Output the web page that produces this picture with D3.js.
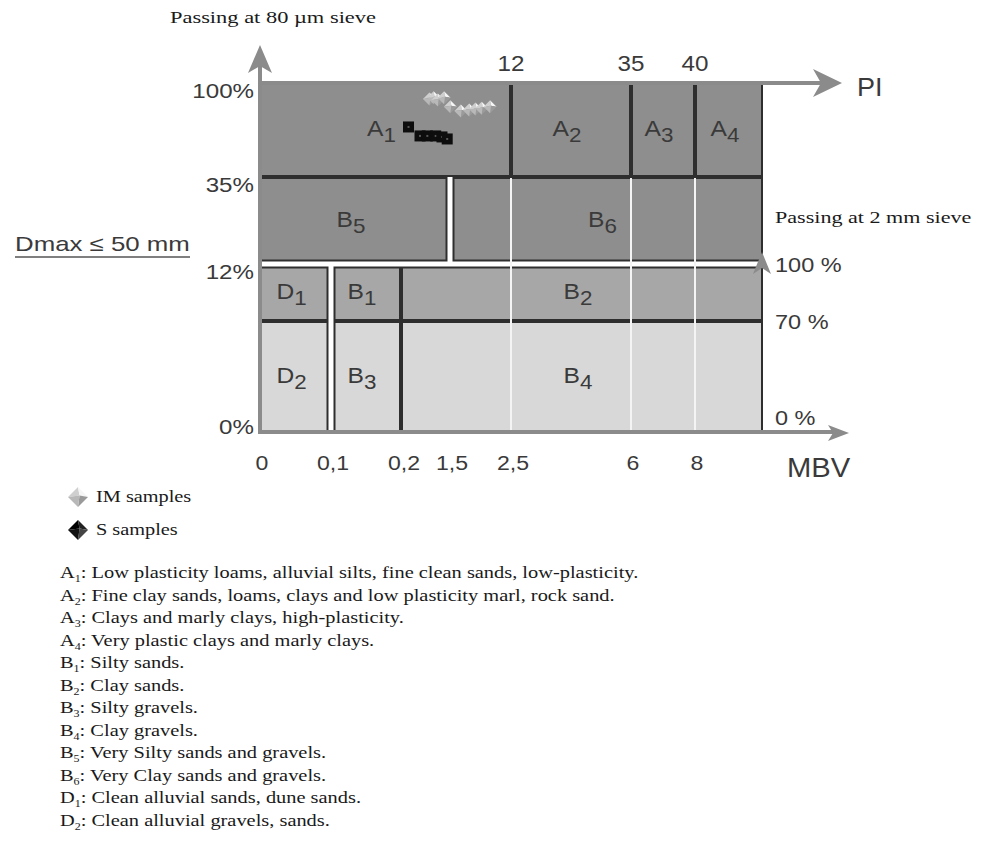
<!DOCTYPE html>
<html><head><meta charset="utf-8">
<script src="https://cdn.jsdelivr.net/npm/d3@7"></script>
<style>
body{margin:0;background:#fff;}
svg{display:block;}
.sans{font-family:"Liberation Sans",Arial,Helvetica,sans-serif;fill:#3a3a3a;}
.serif{font-family:"Liberation Serif","Times New Roman",serif;fill:#1a1a1a;}
</style>
</head><body>
<script>
// ---------------- DATA ----------------
// bottom axis (MBV) ticks, piecewise axis
const mbvTicks = [0, 0.1, 0.2, 1.5, 2.5, 6, 8];
const mbvTickLabels = ["0", "0,1", "0,2", "1,5", "2,5", "6", "8"];
const mbvEnd = 10;
// top axis (PI)
const piTicks = [12, 35, 40];
const piTickLabels = ["12", "35", "40"];
const piEnd = 50;
// left axis: passing at 80 µm sieve
const pass80Ticks = [100, 35, 12, 0];
const pass80Labels = ["100%", "35%", "12%", "0%"];
// right axis: passing at 2 mm sieve
const pass2Ticks = [100, 70, 0];
const pass2Labels = ["100 %", "70 %", "0 %"];

// classification zones
const zoneLetter = ["A", "A", "A", "A", "B", "B", "D", "B", "B", "D", "B", "B"];
const zoneIndex  = [1, 2, 3, 4, 5, 6, 1, 1, 2, 2, 3, 4];
const zoneXAxis  = ["PI", "PI", "PI", "PI", "MBV", "MBV", "MBV", "MBV", "MBV", "MBV", "MBV", "MBV"];
const zoneXFrom  = [0, 12, 35, 40, 0, 1.5, 0, 0.1, 0.2, 0, 0.1, 0.2];
const zoneXTo    = [12, 35, 40, 50, 1.5, 10, 0.1, 0.2, 10, 0.1, 0.2, 10];
const zoneYAxis  = ["p80", "p80", "p80", "p80", "p80", "p80", "p2", "p2", "p2", "p2", "p2", "p2"];
const zoneYFrom  = [35, 35, 35, 35, 12, 12, 70, 70, 70, 0, 0, 0];
const zoneYTo    = [100, 100, 100, 100, 35, 35, 100, 100, 100, 70, 70, 70];

// samples (PI, % passing at 80 µm)
const imPI   = [8.1, 8.3, 8.5, 8.8, 9.1, 9.6, 10.0, 10.3, 10.6, 11.0];
const imPass = [88.9, 89.8, 88.2, 89.8, 83.6, 80.6, 81.3, 82.0, 82.5, 83.6];
const sPI    = [7.1, 7.65, 8.0, 8.4, 8.7, 8.95];
const sPass  = [69.6, 63.4, 63.4, 63.4, 62.7, 61.3];

// legend / description
const legendNames = ["IM samples", "S samples"];
const descLetter = ["A", "A", "A", "A", "B", "B", "B", "B", "B", "B", "D", "D"];
const descIndex  = [1, 2, 3, 4, 1, 2, 3, 4, 5, 6, 1, 2];
const descText = [
  ": Low plasticity loams, alluvial silts, fine clean sands, low-plasticity.",
  ": Fine clay sands, loams, clays and low plasticity marl, rock sand.",
  ": Clays and marly clays, high-plasticity.",
  ": Very plastic clays and marly clays.",
  ": Silty sands.",
  ": Clay sands.",
  ": Silty gravels.",
  ": Clay gravels.",
  ": Very Silty sands and gravels.",
  ": Very Clay sands and gravels.",
  ": Clean alluvial sands, dune sands.",
  ": Clean alluvial gravels, sands."
];

// ---------------- SCALES ----------------
const W = 988, H = 855;
const svg = d3.select("body").append("svg").attr("width", W).attr("height", H);

const xMBV = d3.scaleLinear().domain([...mbvTicks, mbvEnd]).range([260, 331, 401, 450, 511, 631, 695, 763]);
const xPI  = d3.scaleLinear().domain([0, ...piTicks, piEnd]).range([260, 511, 631, 695, 763]);
const yP80 = d3.scaleLinear().domain([0, 12, 35, 100]).range([432, 264, 177, 83]);
const yP2  = d3.scaleLinear().domain([0, 70, 100]).range([432, 321, 264]);

const AX = "#8b8b8b";
const fills = {p80: "#8e8e8e", hi: "#a7a7a7", lo: "#d8d8d8"};

// stretched text helper (reference text is horizontally widened)
function stxt(parent, x, y, s, size, cls, anchor, sx) {
  return parent.append("text").attr("class", cls)
    .attr("transform", `translate(${x},${y}) scale(${sx},1)`)
    .attr("font-size", size).attr("text-anchor", anchor || "start").text(s);
}

// ---------------- ZONES ----------------
const gapX = [0.1, 1.5];
const g = svg.append("g");
zoneLetter.forEach((L, i) => {
  const xs = zoneXAxis[i] === "PI" ? xPI : xMBV;
  const ys = zoneYAxis[i] === "p80" ? yP80 : yP2;
  let x0 = xs(zoneXFrom[i]), x1 = xs(zoneXTo[i]);
  let y0 = ys(zoneYTo[i]), y1 = ys(zoneYFrom[i]);
  if (zoneXAxis[i] === "MBV" && gapX.includes(zoneXFrom[i])) x0 += 2.5;
  if (zoneXAxis[i] === "MBV" && gapX.includes(zoneXTo[i])) x1 -= 2.5;
  if (zoneYAxis[i] === "p80" && zoneYFrom[i] === 12) y1 -= 2.5;
  if (zoneYAxis[i] === "p2" && zoneYTo[i] === 100) y0 += 2.5;
  const fill = zoneYAxis[i] === "p80" ? fills.p80 : (zoneYFrom[i] >= 70 ? fills.hi : fills.lo);
  g.append("rect").attr("x", x0 + 1).attr("y", y0 + 1).attr("width", x1 - x0 - 2).attr("height", y1 - y0 - 2)
    .attr("fill", fill).attr("stroke", "#2e2e2e").attr("stroke-width", 2);
});

// white guide lines through B zones
[2.5, 6, 8].forEach(v => {
  g.append("line").attr("x1", xMBV(v)).attr("x2", xMBV(v)).attr("y1", yP80(35) + 1).attr("y2", yP80(0) - 1)
    .attr("stroke", "#f4f4f4").attr("stroke-width", 2);
});

// zone labels
zoneLetter.forEach((L, i) => {
  const xs = zoneXAxis[i] === "PI" ? xPI : xMBV;
  const ys = zoneYAxis[i] === "p80" ? yP80 : yP2;
  const cx = (xs(zoneXFrom[i]) + xs(zoneXTo[i])) / 2;
  const cy = (ys(zoneYFrom[i]) + ys(zoneYTo[i])) / 2;
  const t = svg.append("text").attr("class", "sans")
    .attr("transform", `translate(${cx - 4},${cy + 6}) scale(1.12,1)`)
    .attr("text-anchor", "middle").attr("font-size", 22);
  t.append("tspan").text(L);
  t.append("tspan").attr("dy", 6).attr("font-size", 20).text(zoneIndex[i]);
});

// ---------------- AXES / ARROWS ----------------
const ax = svg.append("g");
ax.append("line").attr("x1", 260).attr("x2", 260).attr("y1", yP80(0) + 2).attr("y2", 62).attr("stroke", AX).attr("stroke-width", 4);
ax.append("path").attr("d", "M260,45 L272,73 L260,66 L248,73 Z").attr("fill", AX);
ax.append("line").attr("x1", 258).attr("x2", 828).attr("y1", yP80(100)).attr("y2", yP80(100)).attr("stroke", AX).attr("stroke-width", 4);
ax.append("path").attr("d", "M842,83 L813,69 L821,83 L813,97 Z").attr("fill", AX);
ax.append("line").attr("x1", 258).attr("x2", 836).attr("y1", yP80(0)).attr("y2", yP80(0)).attr("stroke", AX).attr("stroke-width", 4);
ax.append("path").attr("d", "M849,433 L828,425 L833,433 L828,441 Z").attr("fill", AX);
ax.append("path").attr("d", "M762,252 L771,274 L762,268 L753,274 Z").attr("fill", AX);

// tick labels left
pass80Ticks.forEach((v, i) => {
  stxt(svg, 254, Math.min(yP80(v) + 15, 434), pass80Labels[i], 21, "sans", "end", 1.15);
});
// right labels
pass2Ticks.forEach((v, i) => {
  stxt(svg, 775, v === 0 ? 425 : yP2(v) + 8, pass2Labels[i], 21, "sans", "start", 1.12);
});
// top PI labels
piTicks.forEach((v, i) => {
  stxt(svg, xPI(v), 71, piTickLabels[i], 22, "sans", "middle", 1.1);
});
// bottom MBV labels
mbvTicks.forEach((v, i) => {
  stxt(svg, xMBV(v) + (i === 2 ? 3 : 2), 470, mbvTickLabels[i], 21, "sans", "middle", 1.1);
});
stxt(svg, 787, 477, "MBV", 27, "sans", "start", 1.08);
stxt(svg, 857, 96, "PI", 25, "sans", "start", 1.08);

// Dmax label
stxt(svg, 15, 251, "Dmax \u2264 50 mm", 21, "sans", "start", 1.23);
svg.append("line").attr("x1", 15).attr("x2", 190).attr("y1", 257).attr("y2", 257).attr("stroke", "#555").attr("stroke-width", 1.5);

// axis titles (serif)
stxt(svg, 170, 23, "Passing at 80 \u00b5m sieve", 17, "serif", "start", 1.32);
stxt(svg, 775, 223, "Passing at 2 mm sieve", 17, "serif", "start", 1.3);

// ---------------- SAMPLES ----------------
function pyramid(sel, cx, cy, r, dark) {
  const c = dark ? ["#000", "#222", "#444", "#111"] : ["#cfcfcf", "#f6f6f6", "#9a9a9a", "#b8b8b8"];
  const T = [cx, cy - r], R = [cx + r, cy], B = [cx, cy + r], Lp = [cx - r, cy], C = [cx + r * 0.15, cy - r * 0.15];
  const faces = [[Lp, T, C], [T, R, C], [R, B, C], [B, Lp, C]];
  faces.forEach((f, k) => sel.append("path").attr("d", "M" + f.map(p => p.join(",")).join("L") + "Z").attr("fill", c[k]));
}
const sm = svg.append("g");
imPI.forEach((v, i) => pyramid(sm, xPI(v), yP80(imPass[i]), 6.5, false));
sPI.forEach((v, i) => {
  const x = xPI(v), y = yP80(sPass[i]);
  sm.append("rect").attr("x", x - 5.5).attr("y", y - 5.5).attr("width", 11).attr("height", 11).attr("fill", "#0d0d0d");
  sm.append("rect").attr("x", x - 1).attr("y", y - 1).attr("width", 2).attr("height", 2).attr("fill", "#555");
});

// ---------------- LEGEND ----------------
legendNames.forEach((n, i) => {
  const y = 497 + i * 33;
  pyramid(svg, 78, y, 10, i === 1);
  stxt(svg, 96, y + 5, n, 16, "serif", "start", 1.27);
});

// ---------------- DESCRIPTIONS ----------------
descText.forEach((s, i) => {
  const t = svg.append("text").attr("class", "serif")
    .attr("transform", `translate(60,${578 + i * 22.5}) scale(1.2,1)`).attr("font-size", 17);
  t.append("tspan").text(descLetter[i]);
  t.append("tspan").attr("font-size", 10).attr("dy", 4).text(descIndex[i]);
  t.append("tspan").attr("dy", -4).text(descText[i]);
});
</script>
</body></html>
